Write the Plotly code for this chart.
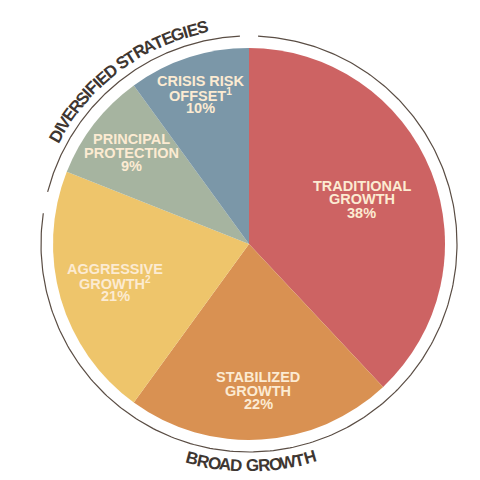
import numpy as np
import plotly.graph_objects as go

# slice data, clockwise from 12 o'clock
labels = ["TRADITIONAL<br>GROWTH", "STABILIZED<br>GROWTH",
          "AGGRESSIVE<br>GROWTH<sup>2</sup>", "PRINCIPAL<br>PROTECTION",
          "CRISIS RISK<br>OFFSET<sup>1</sup>"]
values = [38, 22, 21, 9, 10]
colors = ["#CD6363", "#D99152", "#EEC56B", "#A6B4A0", "#7B97A8"]

# group captions around the ring
group_names = ["DIVERSIFIED STRATEGIES", "BROAD GROWTH"]

# label radius as fraction of pie radius (layout only)
label_r = [0.62, 0.75, 0.71, 0.76, 0.80]

W = H = 480
CX, CY, R = 249, 244, 196   # pie centre / radius in pixels
RING = 208
TXT_R = 221

# arial bold advance widths (per 1000 em)
CHAR_W = {"A": 722, "B": 722, "C": 722, "D": 722, "E": 667, "F": 611, "G": 778,
          "H": 722, "I": 278, "K": 722, "L": 611, "N": 722, "O": 778, "P": 667,
          "R": 722, "S": 667, "T": 611, "V": 667, "W": 944, " ": 278}
TRACK = 0.9   # letters sit a bit tighter than normal

DARK = "#3E3631"
CREAM = "#FCEBD2"
FONT = "Liberation Sans, Arial, sans-serif"


def arc_text(text, r, mid_deg, size, top=True):
    """one annotation per letter along an arc"""
    w = np.array([CHAR_W.get(c, 667) / 1000 * size * TRACK for c in text])
    pos = np.cumsum(w) - w / 2 - w.sum() / 2
    anns = []
    for c, p in zip(text, pos):
        if c == " ":
            continue
        if top:
            th = mid_deg - np.degrees(p / r)
            ang = 90 - th
        else:
            th = mid_deg + np.degrees(p / r)
            ang = -(th + 90)
        t = np.radians(th)
        anns.append(dict(x=r * np.cos(t), y=r * np.sin(t), text="<b>%s</b>" % c,
                         textangle=ang, showarrow=False, xanchor="center",
                         yanchor="middle", font=dict(size=size, color=DARK,
                                                     family=FONT)))
    return anns


fig = go.Figure()

fig.add_trace(go.Pie(values=values, labels=labels, sort=False,
                     direction="clockwise", rotation=0,
                     marker=dict(colors=colors, line=dict(width=0)),
                     textinfo="none", hoverinfo="label+percent",
                     domain=dict(x=[(CX - R) / W, (CX + R) / W],
                                 y=[(H - CY - R) / H, (H - CY + R) / H])))

# outer ring, two arcs with gaps
for a0, a1 in [(92.5, 165.5), (171.5, 447.5)]:
    t = np.radians(np.linspace(a0, a1, 300))
    fig.add_trace(go.Scatter(x=RING * np.cos(t), y=RING * np.sin(t),
                             mode="lines", hoverinfo="skip",
                             line=dict(color="#5A4D44", width=1.2)))

annotations = []
annotations += arc_text(group_names[0], TXT_R, 126.5, 17, top=True)
annotations += arc_text(group_names[1], TXT_R + 1, -89.5, 17, top=False)

# slice labels
total = sum(values)
cum = np.cumsum(values)
LINE = 13.5
for lab, v, c, lr in zip(labels, values, cum, label_r):
    frac = (c - v / 2) / total
    th = np.radians(90 - 360 * frac)
    x0, y0 = lr * R * np.cos(th), lr * R * np.sin(th)
    lines = lab.split("<br>") + ["%d%%" % round(100 * v / total)]
    for i, ln in enumerate(lines):
        annotations.append(dict(x=x0, y=y0 - (i - 1) * LINE, text="<b>%s</b>" % ln,
                                showarrow=False, xanchor="center",
                                yanchor="middle",
                                font=dict(size=14.5, color=CREAM, family=FONT)))

fig.update_layout(
    width=W, height=H,
    margin=dict(l=0, r=0, t=0, b=0),
    paper_bgcolor="white", plot_bgcolor="white",
    showlegend=False,
    xaxis=dict(range=[-CX, W - CX], visible=False, fixedrange=True),
    yaxis=dict(range=[-(H - CY), CY], visible=False, fixedrange=True),
    annotations=annotations)

# drop the page's default body margin so the figure sits at 0,0
fig.write_html("out.html", config={"displayModeBar": False},
               post_script="document.body.style.margin='0px';")
